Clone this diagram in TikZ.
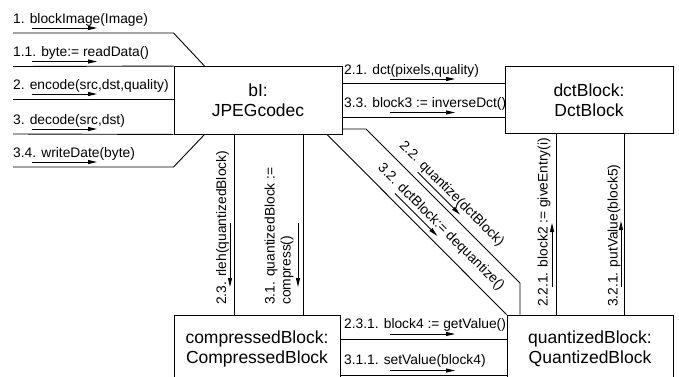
\documentclass[tikz,border=0pt]{standalone}
\usepackage{fontspec}
\setmainfont{Liberation Sans}
\usetikzlibrary{arrows.meta}

\begin{document}
\begin{tikzpicture}[x=1pt, y=-1pt,
  obj/.style={draw, line width=0.9pt, inner sep=0pt, align=center,
              font=\fontsize{17.5}{20}\selectfont},
  link/.style={line width=0.9pt},
  lbl/.style={inner sep=0pt, anchor=base west,
              font=\fontsize{13.8}{16}\selectfont},
  msg/.style={line width=0.9pt, -{Triangle[length=9pt,width=4pt]}},
]
\clip (0,0) rectangle (679,376);
\fill[white] (0,0) rectangle (679,376);

% objects
\node[obj, minimum width=168pt, minimum height=67.5pt] (bi)    at (258,100.25) {bI:\\JPEGcodec};
\node[obj, minimum width=168pt, minimum height=67pt]   (dct)   at (589,100)    {dctBlock:\\DctBlock};
\node[obj, minimum width=166pt, minimum height=67pt]   (comp)  at (257,348.5)  {compressedBlock:\\CompressedBlock};
\node[obj, minimum width=166pt, minimum height=67pt]   (quant) at (590,348.5)  {quantizedBlock:\\QuantizedBlock};

% free ends of the incoming links and helper levels
\coordinate (l1) at (13,33);
\coordinate (l2) at (13,66.5);
\coordinate (l3) at (13,99);
\coordinate (l4) at (13,134);
\coordinate (l5) at (13,167);
\coordinate (h1) at (0,83);
\coordinate (h2) at (0,117);
\coordinate (h3) at (0,339);
\coordinate (h4) at (0,375.5);
\coordinate (v1) at (234,0);
\coordinate (v2) at (303,0);
\coordinate (v3) at (556,0);
\coordinate (v4) at (624,0);
\coordinate (pa1) at (366,129);
\coordinate (pa2) at (520,283);
\coordinate (pb)  at (327,0);

% links into bI
\draw[link] (l1) -- (bi.west |- l1) -- ([xshift=31pt]bi.north west);
\draw[link] (l2) -- (bi.north west);
\draw[link] (l3) -- (bi.west |- l3);
\draw[link] (l4) -- (bi.south west);
\draw[link] (l5) -- (bi.west |- l5) -- ([xshift=31pt]bi.south west);

% links between objects
\draw[link] (bi.east |- h1) -- (dct.west |- h1);
\draw[link] (bi.east |- h2) -- (dct.west |- h2);
\draw[link] (bi.east |- pa1) -- (pa1) -- (pa2) -- (pa2 |- quant.north);
\draw[link] (bi.south -| pb) -- (quant.north west);
\draw[link] (bi.south -| v1) -- (comp.north -| v1);
\draw[link] (bi.south -| v2) -- (comp.north -| v2);
\draw[link] (dct.south -| v3) -- (quant.north -| v3);
\draw[link] (dct.south -| v4) -- (quant.north -| v4);
\draw[link] (comp.east |- h3) -- (quant.west |- h3);
\draw[link] (comp.east |- h4) -- (quant.west |- h4);

% messages to bI
\node[lbl] (m1) at (13,23)   {1. blockImage(Image)};
\node[lbl] (m2) at (13,56.5) {1.1. byte:= readData()};
\node[lbl] (m3) at (13,89)   {2. encode(src,dst,quality)};
\node[lbl] (m4) at (13,124)  {3. decode(src,dst)};
\node[lbl] (m5) at (13,157)  {3.4. writeDate(byte)};
\draw[msg] (32,28)   -- (97,28);
\draw[msg] (32,61.5) -- (97,61.5);
\draw[msg] (32,94)   -- (97,94);
\draw[msg] (32,129)  -- (97,129);
\draw[msg] (32,162)  -- (97,162);

% messages bI -> dctBlock
\node[lbl] (m21) at (344,74)    {2.1. dct(pixels,quality)};
\node[lbl] (m33) at (344,107.5) {3.3. block3 := inverseDct()};
\draw[msg] (390,79)    -- (455,79);
\draw[msg] (390,112.5) -- (455,112.5);

% messages compressedBlock -> quantizedBlock
\node[lbl] (m231) at (344,328) {2.3.1. block4 := getValue()};
\node[lbl] (m311) at (344,364) {3.1.1. setValue(block4)};
\draw[msg] (390,334)   -- (455,334);
\draw[msg] (390,370.5) -- (455,370.5);

% messages bI -> compressedBlock
\node[lbl, rotate=90] (m23) at (226,305) {2.3. rleh(quantizedBlock)};
\node[lbl, rotate=90, anchor=north west, align=left] (m31) at (264.5,305)
  {3.1. quantizedBlock :=\\compress()};
\draw[msg] (230,223) -- (230,287);
\draw[msg] (298,223) -- (298,287);

% messages dctBlock -> quantizedBlock
\node[lbl, rotate=90] (m221) at (547.5,307) {2.2.1. block2 := giveEntry(i)};
\node[lbl, rotate=90] (m321) at (617.5,307) {3.2.1. putValue(block5)};
\draw[msg] (552,287) -- (552,223);
\draw[msg] (621,287) -- (621,221);

% messages bI -> quantizedBlock
\node[lbl, rotate=-45] (m22) at (398.8,146.2) {2.2. quantize(dctBlock)};
\node[lbl, rotate=-45] (m32) at (377.2,168.6) {3.2. dctBlock:= dequantize()};
\draw[msg] (417.6,172.2) -- (460,214.6);
\draw[msg] (394.9,193.4) -- (437.3,235.9);
\end{tikzpicture}
\end{document}
